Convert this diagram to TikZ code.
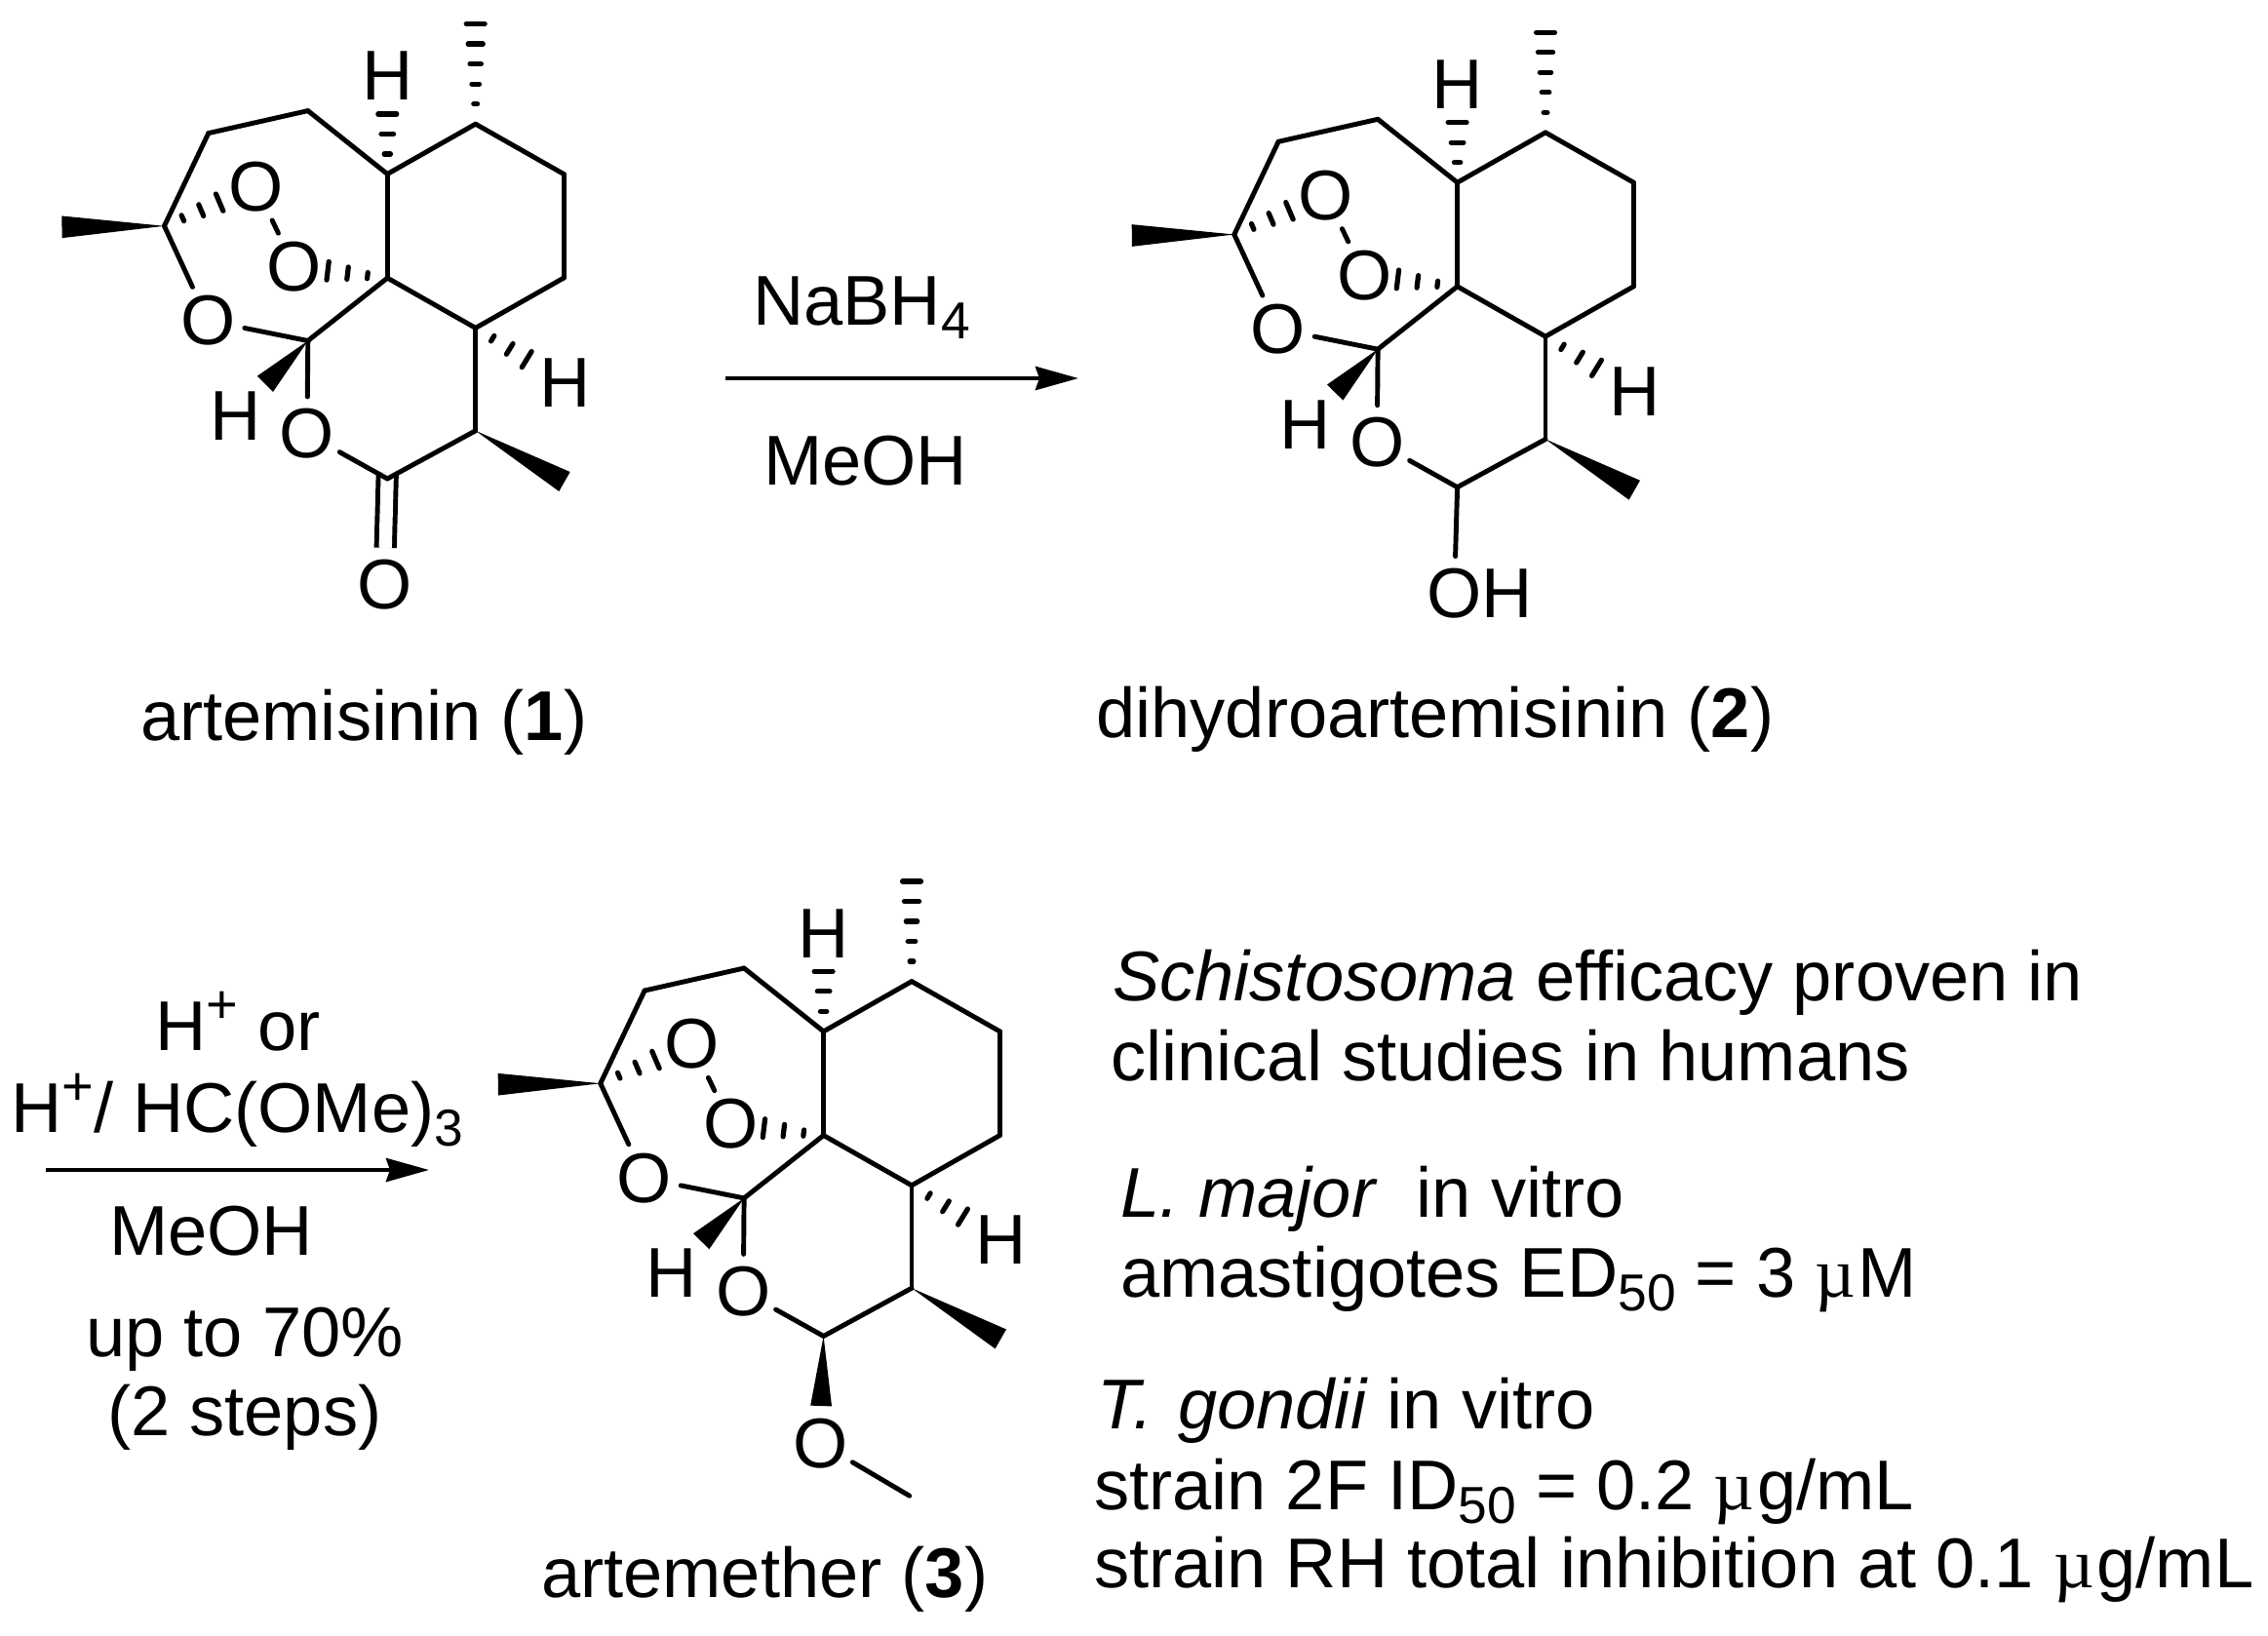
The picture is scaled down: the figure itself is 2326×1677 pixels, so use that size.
\documentclass[tikz,border=0pt]{standalone}
\usepackage{fontspec}
\setmainfont{Liberation Sans}
\newfontfamily\symf{Liberation Serif}
\usetikzlibrary{calc,arrows.meta}
\newcommand\subsc[1]{\raisebox{-11pt}{\fontsize{40}{45}\selectfont #1}}
\newcommand\supsc[1]{\raisebox{21pt}{\fontsize{42}{45}\selectfont #1}}
\newcommand\micro{{\symf µ\kern2pt}}
\tikzset{
  bond/.style={line width=3.7pt,line cap=round,line join=round},
  dbond/.style={line width=3.7pt,double,double distance=10pt},
  hashline/.style={line width=3.9pt,line cap=round},
  atom/.style={circle,inner sep=0pt,minimum size=55.5pt,font=\fontsize{54.2}{60}\selectfont},
  hatom/.style={inner sep=0pt,font=\fontsize{54.2}{60}\selectfont},
  txt/.style={anchor=base west,inner sep=0pt,font=\fontsize{54.2}{60}\selectfont},
  rxn/.style={line width=3.5pt,-{Stealth[length=33pt,width=18pt,inset=3pt]}},
}
% hashed bond: #1 from, #2 towards, #3 number of stripes
\newcommand\hashb[3]{%
  \foreach \k in {1,...,#3}{%
    \pgfmathsetmacro\dd{15.4*\k}%
    \pgfmathsetmacro\hw{7.1*\k/#3}%
    \draw[hashline] ($($(#1)!\dd pt!(#2)$)!\hw pt!90:(#2)$) -- ($($(#1)!\dd pt!(#2)$)!\hw pt!-90:(#2)$);
  }}
% wedge bond: #1 narrow end, #2 middle of wide end, #3 half width
\newcommand\wedgeb[3]{%
  \fill (#1) -- ($(#2)!#3!90:(#1)$) -- ($(#2)!#3!-90:(#1)$) -- cycle;}
% the shared skeleton; #1 prefix, #2,#3 shift, #4 substituent at carbon K
\newcommand\artcore[4]{%
\begin{scope}[shift={(#2,#3)}]
  \coordinate (#1Me) at (487.7,24.6);
  \coordinate (#1C9) at (487.7,127.2);
  \coordinate (#1A) at (578.1,178.5);
  \coordinate (#1B) at (578.1,285.1);
  \coordinate (#1C) at (487.7,336.4);
  \coordinate (#1D) at (397.3,285.1);
  \coordinate (#1E) at (397.3,178.5);
  \coordinate (#1F) at (315.8,113.6);
  \coordinate (#1G) at (213.8,136.6);
  \coordinate (#1I) at (168.5,231.8);
  \coordinate (#1Mw) at (63.5,232.8);
  \coordinate (#1J) at (315.8,349.5);
  \coordinate (#1K) at (397.3,491);
  \coordinate (#1Kt) at (397.3,485);
  \coordinate (#1L) at (487.7,441.8);
  \coordinate (#1Lw) at (579,494);
  \coordinate (#1Jw) at (271.9,393.8);
  \node[atom] (#1O1) at (262.7,191.6) {O};
  \node[atom] (#1O2) at (301.9,273.6) {O};
  \node[atom] (#1O3) at (213.5,329) {O};
  \node[atom] (#1O4) at (315,445.1) {O};
  \node[hatom] (#1Ha) at (397.3,78) {H};
  \node[hatom] (#1Hb) at (579.2,392.6) {H};
  \node[hatom] (#1Hc) at (241.5,426.7) {H};
  #4
  \draw[bond] (#1C9) -- (#1A);
  \draw[bond] (#1A) -- (#1B);
  \draw[bond] (#1B) -- (#1C);
  \draw[bond] (#1C) -- (#1D);
  \draw[bond] (#1D) -- (#1E);
  \draw[bond] (#1E) -- (#1C9);
  \draw[bond] (#1E) -- (#1F);
  \draw[bond] (#1F) -- (#1G);
  \draw[bond] (#1G) -- (#1I);
  \draw[bond] (#1I) -- (#1O3);
  \draw[bond] (#1O3) -- (#1J);
  \draw[bond] (#1J) -- (#1D);
  \draw[bond] (#1J) -- (#1O4);
  \draw[bond] (#1O4) -- (#1K);
  \draw[bond] (#1K) -- (#1L);
  \draw[bond] (#1L) -- (#1C);
  \draw[bond] (#1O1) -- (#1O2);
  \wedgeb{#1I}{#1Mw}{8.5pt}
  \wedgeb{#1L}{#1Lw}{8.6pt}
  \wedgeb{#1J}{#1Jw}{8.6pt}
  \hashb{#1C9}{#1Me}{5}
  \hashb{#1E}{#1Ha}{3}
  \hashb{#1I}{#1O1}{3}
  \hashb{#1D}{#1O2}{3}
  \hashb{#1C}{#1Hb}{3}
\end{scope}}
\begin{document}
\begin{tikzpicture}[x=0.75pt,y=-0.75pt]
\path[fill=white,use as bounding box] (0,0) rectangle (2326,1677);

% artemisinin
\artcore{a}{0}{0}{%
  \node[atom] (aOd) at (394.2,600) {O};
  \draw[dbond] (aKt) -- (aOd);
}
% dihydroartemisinin
\artcore{b}{1097.3}{8.7}{%
  \node[atom] (bOH) at (394.2,600) {O\rlap{H}};
  \draw[bond] (bK) -- (bOH);
}
% artemether
\artcore{c}{447.3}{879.4}{%
  \node[atom] (cOm) at (394.2,601) {O};
  \coordinate (cKw) at (394.8,562.6);
  \coordinate (cCH) at (485.4,654.8);
  \wedgeb{cK}{cKw}{8.2pt}
  \draw[bond] (cOm) -- (cCH);
}

% reaction arrows
\coordinate (r1s) at (744,388);
\coordinate (r1e) at (1106,388);
\coordinate (r2s) at (47,1200);
\coordinate (r2e) at (440,1200);
\draw[rxn] (r1s) -- (r1e);
\draw[rxn] (r2s) -- (r2e);

% captions and reagents
\node[txt] (t1) at (144,759) {artemisinin (\textbf{1})};
\node[txt] (t2) at (1124,756) {dihydroartemisinin (\textbf{2})};
\node[txt] (t3) at (555,1638) {artemether (\textbf{3})};
\node[txt] (r1a) at (772,333) {NaBH\subsc{4}};
\node[txt] (r1b) at (783,497) {MeOH};
\node[txt] (r2a) at (159,1077) {H\supsc{+} or};
\node[txt] (r2b) at (11,1161) {H\supsc{+}/ HC(OMe)\subsc{3}};
\node[txt] (r2c) at (112,1287) {MeOH};
\node[txt] (r2d) at (88,1391) {up to 70\%};
\node[txt] (r2e2) at (110,1472) {(2 steps)};

% activity notes
\node[txt] (n1) at (1141,1026) {\textit{Schistosoma} efficacy proven in};
\node[txt] (n2) at (1139,1108) {clinical studies in humans};
\node[txt] (n3) at (1149,1248) {\textit{L. major}\ \ in vitro};
\node[txt] (n4) at (1149,1330) {amastigotes ED\subsc{50} = 3 \micro M};
\node[txt] (n5) at (1125,1465) {\textit{T.\ \kern4pt gondii} in vitro};
\node[txt] (n6) at (1122,1548) {strain 2F ID\subsc{50} = 0.2 \micro g/mL};
\node[txt] (n7) at (1122,1628) {strain RH total inhibition at 0.1 \micro g/mL};
\end{tikzpicture}
\end{document}
